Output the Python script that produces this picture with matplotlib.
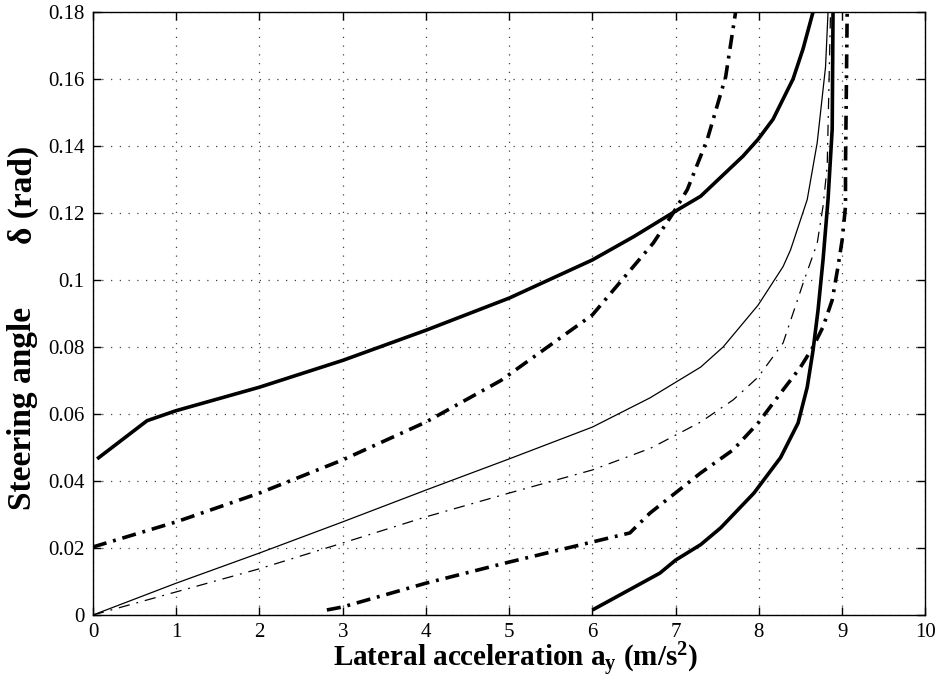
import matplotlib
matplotlib.use("Agg")
import matplotlib.pyplot as plt

plt.rcParams['font.family'] = ['Liberation Serif', 'DejaVu Serif']
plt.rcParams['mathtext.fontset'] = 'custom'
plt.rcParams['mathtext.rm'] = 'Liberation Serif'
plt.rcParams['mathtext.bf'] = 'Liberation Serif:bold'
plt.rcParams['mathtext.it'] = 'Liberation Serif:italic'

# thick solid, upper
a_x = [0.05, 0.65, 1.0, 2.0, 3.0, 4.0, 5.0, 6.0, 6.5, 7.0, 7.3, 7.81, 7.99, 8.17, 8.41, 8.53, 8.65]
a_y = [0.0466, 0.058, 0.061, 0.068, 0.076, 0.085, 0.0946, 0.106, 0.113, 0.1206, 0.125, 0.137, 0.142, 0.148, 0.160, 0.169, 0.18]

# thick dash-dot, upper
b_x = [0.0, 1.0, 2.0, 3.0, 4.0, 4.9, 6.0, 6.73, 6.97, 7.14, 7.38, 7.6, 7.72]
b_y = [0.0203, 0.0278, 0.0364, 0.0463, 0.0576, 0.070, 0.0896, 0.111, 0.12, 0.127, 0.142, 0.1606, 0.18]

# thin solid
c_x = [0.0, 1.0, 2.0, 3.0, 4.0, 5.0, 6.0, 6.69, 7.3, 7.57, 7.99, 8.29, 8.38, 8.58, 8.70, 8.8, 8.83]
c_y = [0.0, 0.0095, 0.0185, 0.0278, 0.0373, 0.0466, 0.0561, 0.0648, 0.074, 0.080, 0.0925, 0.104, 0.109, 0.124, 0.141, 0.1636, 0.18]

# thin dash-dot
d_x = [0.0, 1.0, 2.0, 3.0, 4.0, 5.0, 6.0, 6.7, 7.3, 7.69, 7.99, 8.29, 8.53, 8.70, 8.77, 8.82, 8.86]
d_y = [0.0, 0.0069, 0.0138, 0.0215, 0.0293, 0.0364, 0.0433, 0.0498, 0.0576, 0.0642, 0.071, 0.0812, 0.099, 0.111, 0.122, 0.134, 0.18]

# thick dash-dot, lower
e_x = [2.81, 3.0, 4.0, 5.0, 6.0, 6.45, 6.69, 7.3, 7.69, 7.99, 8.29, 8.5, 8.65, 8.77, 8.88, 8.95, 9.0, 9.04, 9.04, 9.06]
e_y = [0.0015, 0.0024, 0.0095, 0.0158, 0.0218, 0.0245, 0.0304, 0.0424, 0.0493, 0.0573, 0.0672, 0.074, 0.080, 0.086, 0.094, 0.104, 0.112, 0.122, 0.134, 0.18]

# thick solid, lower
f_x = [6.0, 6.81, 7.0, 7.3, 7.54, 7.94, 8.26, 8.47, 8.58, 8.65, 8.71, 8.77, 8.83, 8.88, 8.89]
f_y = [0.0015, 0.0125, 0.0164, 0.021, 0.026, 0.0364, 0.047, 0.0573, 0.068, 0.079, 0.091, 0.106, 0.124, 0.145, 0.18]

x_ticks = list(range(0, 11))
y_ticks = [0, 0.02, 0.04, 0.06, 0.08, 0.1, 0.12, 0.14, 0.16, 0.18]
y_tick_labels = ['0', '0.02', '0.04', '0.06', '0.08', '0.1', '0.12', '0.14', '0.16', '0.18']

fig = plt.figure(figsize=(9.38, 6.89), dpi=100)
ax = fig.add_axes([0.0991, 0.1074, 0.8875, 0.8752])

thick_dd = (0, (3.9, 1.9, 0.8, 1.9))
thin_dd = (0, (9, 5.5, 1.5, 5.5))

ax.plot(a_x, a_y, color='black', lw=2.6, solid_capstyle='butt')
ax.plot(b_x, b_y, color='black', lw=2.6, linestyle=thick_dd)
ax.plot(c_x, c_y, color='black', lw=0.9)
ax.plot(d_x, d_y, color='black', lw=0.9, linestyle=thin_dd)
ax.plot(e_x, e_y, color='black', lw=2.6, linestyle=thick_dd)
ax.plot(f_x, f_y, color='black', lw=2.6, solid_capstyle='butt')

ax.set_xlim(0, 10)
ax.set_ylim(0, 0.18)
ax.set_xticks(x_ticks)
ax.set_yticks(y_ticks)
ax.set_yticklabels(y_tick_labels)

ax.grid(True, color='#444444', linestyle=(0, (1, 6)), linewidth=0.9)
ax.tick_params(direction='in', length=6, width=1, top=True, right=True,
               labelsize=15, pad=6)
for s in ax.spines.values():
    s.set_linewidth(1.0)

# axis titles
fig.text(516 / 938, 22 / 689,
         r'Lateral acceleration a$_{\mathbf{y}}$ (m/s$^{\mathbf{2}}$)',
         fontsize=21, fontweight='bold', ha='center', va='baseline')
fig.text(23 / 938, 1 - 408 / 689, 'Steering angle', rotation=90,
         fontsize=24, fontweight='bold', ha='center', va='center')
fig.text(23 / 938, 1 - 195 / 689, 'δ (rad)', rotation=90,
         fontsize=24, fontweight='bold', ha='center', va='center')

fig.savefig('out.png', dpi=100)
